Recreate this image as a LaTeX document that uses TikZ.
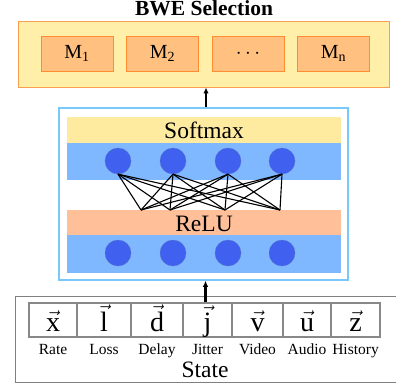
\documentclass[tikz,border=0pt]{standalone}
\usepackage{fontspec}
\setmainfont{Liberation Serif}
\usetikzlibrary{arrows.meta}
\definecolor{topfill}{RGB}{255,239,168}
\definecolor{topline}{RGB}{248,160,80}
\definecolor{mfill}{RGB}{255,192,128}
\definecolor{mline}{RGB}{255,140,48}
\definecolor{nnline}{RGB}{120,200,250}
\definecolor{softfill}{RGB}{255,235,160}
\definecolor{bandfill}{RGB}{128,184,255}
\definecolor{relufill}{RGB}{255,191,153}
\definecolor{circfill}{RGB}{64,96,240}
\definecolor{circline}{RGB}{80,110,200}
\definecolor{rowline}{RGB}{136,136,136}
\definecolor{stateline}{RGB}{128,128,128}
\tikzset{
  mbox/.style={draw=mline, fill=mfill, line width=0.8pt, minimum width=72pt, minimum height=35pt, inner sep=0pt, font=\fontsize{20}{22}\selectfont},
  band/.style={inner sep=0pt, minimum width=274pt},
  neuron/.style={circle, fill=circfill, draw=circline, line width=0.3pt, minimum size=26pt, inner sep=0pt},
  vecl/.style={font=\fontsize{28}{30}\selectfont, anchor=base, inner sep=0pt},
  lab/.style={font=\fontsize{15.5}{17}\selectfont, anchor=base, inner sep=0pt},
  conn/.style={line width=1.1pt, black},
  arr/.style={black, line width=2.2pt, -{Latex[length=6pt,width=5.5pt]}}
}
\begin{document}
\begin{tikzpicture}[x=1pt,y=-1pt]
\useasboundingbox (0,0) rectangle (396,385);
% title
\node[anchor=base, inner sep=0pt, font=\bfseries\fontsize{21.5}{23}\selectfont] (title) at (204,16) {BWE Selection};
% selection box
\node[draw=topline, fill=topfill, line width=0.9pt, minimum width=371pt, minimum height=66pt, inner sep=0pt] (sel) at (203.5,54) {};
\node[mbox] (m1) at (77,53.5) {M\textsubscript{1}};
\node[mbox] (m2) at (162.5,53.5) {M\textsubscript{2}};
\node[mbox] (m3) at (248,53.5) {$\cdots$};
\node[mbox] (mn) at (333.5,53.5) {M\textsubscript{n}};
% NN box
\node[draw=nnline, line width=1.6pt, minimum width=289pt, minimum height=172pt, inner sep=0pt] (nn) at (203.5,194) {};
\node[band, fill=softfill, minimum height=26pt] (soft) at (204,130) {};
\node[anchor=base, inner sep=0pt, font=\fontsize{23.5}{25}\selectfont] (softt) at (204,139) {Softmax};
\node[band, fill=bandfill, minimum height=37pt] (b1) at (204,161.5) {};
\node[band, fill=relufill, minimum height=25pt] (relu) at (204,222.5) {};
\node[anchor=base, inner sep=0pt, font=\fontsize{23.5}{25}\selectfont] (relut) at (204,231) {ReLU};
\node[band, fill=bandfill, minimum height=38pt] (b2) at (204,254) {};
\foreach \i/\x in {1/118,2/173,3/228,4/282}{
  \node[neuron] (t\i) at (\x,161) {};
  \node[neuron] (u\i) at (\x,253) {};
}
\foreach \i/\x in {1/141,2/170,3/225,4/280}{
  \coordinate (r\i) at (\x,210);
}
\foreach \i in {1,...,4}{
  \foreach \j in {1,...,4}{
    \draw[conn] (t\i.south) -- (r\j);
  }
}
% state
\draw[stateline, line width=0.9pt] (400,296) -- (15,296) -- (15,382) -- (400,382);
\node[draw=rowline, line width=2.5pt, minimum width=351pt, minimum height=34pt, inner sep=0pt] (row) at (204.5,320) {};
\foreach \x in {77,131,183,232,283,331}{
  \draw[rowline, line width=2.5pt] (\x,303) -- (\x,337);
}
\foreach \i/\c/\l/\v in {1/53/Rate/x,2/104/Loss/l,3/157/Delay/d,4/207.5/Jitter/j,5/257.5/Video/v,6/307/Audio/u,7/355.5/History/z}{
  \node[vecl] (v\i) at (\c,331) {$\vec{\hbox{\v}}$};
  \node[lab] (l\i) at (\c,354) {\l};
}
\node[anchor=base, inner sep=0pt, font=\fontsize{23.5}{25}\selectfont] (state) at (205,377) {State};
% arrows
\draw[arr] ([xshift=2.5pt]nn.north) -- ([xshift=2.5pt]sel.south);
\draw[arr] ([xshift=1pt]row.north) -- ([xshift=2pt]nn.south);
\end{tikzpicture}
\end{document}
